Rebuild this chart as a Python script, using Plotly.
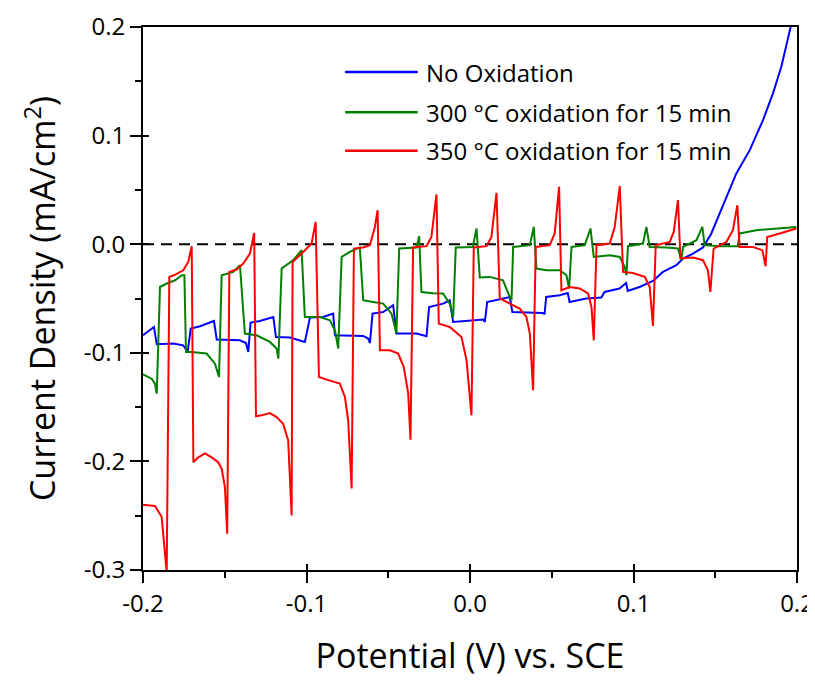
import plotly.graph_objects as go

# ---------------- data ----------------
no_ox_v = [-0.2, -0.1957, -0.1933, -0.1916, -0.1815, -0.1754, -0.1727, -0.1708, -0.1651, -0.1566,
           -0.1549, -0.1407, -0.137, -0.1356, -0.1342, -0.1285, -0.1203, -0.1187, -0.1101, -0.101,
           -0.0979, -0.0898, -0.0837, -0.0826, -0.0735, -0.0653, -0.0623, -0.0612, -0.0596, -0.0531,
           -0.047, -0.045, -0.0327, -0.0266, -0.025, -0.0164, -0.0124, -0.0103, 0.0081, 0.0091,
           0.0105, 0.0202, 0.0243, 0.0259, 0.0446, 0.0456, 0.0466, 0.0548, 0.0598, 0.0609,
           0.0711, 0.0803, 0.0823, 0.0914, 0.0955, 0.0965, 0.1037, 0.1119, 0.116, 0.118,
           0.1262, 0.1303, 0.1364, 0.1425, 0.1476, 0.1527, 0.1576, 0.1629, 0.1711, 0.1792,
           0.1853, 0.1904, 0.1965]
no_ox_j = [-0.0839, -0.0793, -0.0762, -0.0922, -0.0915, -0.0931, -0.0993, -0.0777, -0.0756, -0.0707,
           -0.0878, -0.0885, -0.091, -0.0993, -0.0722, -0.0707, -0.067, -0.0854, -0.086, -0.09,
           -0.0676, -0.067, -0.0639, -0.0839, -0.0839, -0.0845, -0.0869, -0.091, -0.0639, -0.0624,
           -0.0562, -0.0823, -0.0823, -0.0848, -0.0578, -0.0547, -0.0516, -0.0716, -0.0694, -0.0716,
           -0.0532, -0.05, -0.0486, -0.0624, -0.0633, -0.0645, -0.0486, -0.047, -0.0449, -0.0532,
           -0.05, -0.0491, -0.044, -0.0408, -0.0357, -0.043, -0.0394, -0.0338, -0.0286, -0.0255,
           -0.0194, -0.0132, -0.0086, -0.003, 0.0099, 0.0283, 0.047, 0.0652, 0.0866, 0.1143,
           0.1389, 0.1634, 0.2025]

ox300_v = [-0.2, -0.1947, -0.1927, -0.1916, -0.1896, -0.1855, -0.1804, -0.1763, -0.1747, -0.1737,
           -0.1702, -0.1611, -0.156, -0.1535, -0.1519, -0.1448, -0.1407, -0.1377, -0.1305, -0.1224,
           -0.1183, -0.1172, -0.1152, -0.1081, -0.103, -0.101, -0.0918, -0.0857, -0.0826, -0.0806,
           -0.0785, -0.0735, -0.0674, -0.0653, -0.0592, -0.0531, -0.048, -0.045, -0.0433, -0.0327,
           -0.0311, -0.0297, -0.0226, -0.0165, -0.0124, -0.0103, -0.0087, 0.0017, 0.004, 0.006,
           0.0121, 0.0202, 0.0243, 0.0254, 0.0264, 0.0366, 0.039, 0.0406, 0.0467, 0.0549,
           0.059, 0.0606, 0.0621, 0.0702, 0.0737, 0.0757, 0.0855, 0.0916, 0.0946, 0.0957,
           0.0966, 0.1058, 0.1079, 0.1099, 0.1201, 0.1272, 0.1293, 0.1303, 0.1385, 0.1421,
           0.1435, 0.1527, 0.1639, 0.1649, 0.1751, 0.1996]
ox300_j = [-0.1198, -0.1238, -0.1284, -0.1376, -0.0394, -0.0362, -0.0332, -0.0286, -0.0286, -0.0993,
           -0.0993, -0.1007, -0.11, -0.1223, -0.0286, -0.0255, -0.0194, -0.0823, -0.0839, -0.09,
           -0.0961, -0.1054, -0.0224, -0.0147, -0.0055, -0.067, -0.067, -0.07, -0.0793, -0.0961,
           -0.0117, -0.0071, -0.003, -0.0516, -0.0532, -0.0547, -0.0639, -0.0823, -0.004, -0.003,
           0.0074, -0.044, -0.0452, -0.0454, -0.0547, -0.067, -0.003, -0.0025, 0.0145, -0.0307,
           -0.0301, -0.0332, -0.0486, -0.0516, -0.0025, -0.0009, 0.0159, -0.0224, -0.024, -0.024,
           -0.0286, -0.0408, -0.0025, -0.0009, 0.0145, -0.0117, -0.0101, -0.0117, -0.0209, -0.0286,
           -0.0018, 0.0006, 0.0159, -0.0025, -0.003, -0.004, -0.0147, -0.0025, 0.0037, 0.0159,
           -0.0009, -0.0018, -0.0018, 0.0099, 0.0129, 0.0159]

ox350_v = [-0.2, -0.1927, -0.1886, -0.1855, -0.1839, -0.1811, -0.1754, -0.1723, -0.1702, -0.1692,
           -0.1662, -0.1621, -0.158, -0.154, -0.1519, -0.1499, -0.1485, -0.1472, -0.1427, -0.1387,
           -0.1346, -0.132, -0.1309, -0.1275, -0.1224, -0.1183, -0.1143, -0.1112, -0.1091, -0.1085,
           -0.102, -0.0969, -0.0944, -0.0924, -0.0877, -0.0796, -0.0765, -0.0745, -0.0724, -0.071,
           -0.0653, -0.0612, -0.0582, -0.0565, -0.0551, -0.049, -0.0439, -0.0405, -0.0378, -0.0364,
           -0.0348, -0.0266, -0.0236, -0.0205, -0.0191, -0.0124, -0.0052, -0.0021, 0.0009, 0.0023,
           0.0101, 0.0131, 0.0162, 0.0182, 0.0243, 0.0304, 0.0345, 0.0366, 0.0386, 0.0402,
           0.0488, 0.0518, 0.0545, 0.0559, 0.061, 0.0671, 0.0722, 0.0743, 0.0757, 0.0774,
           0.0855, 0.0885, 0.0916, 0.0936, 0.0997, 0.1069, 0.1099, 0.1119, 0.1136, 0.1222,
           0.1246, 0.1272, 0.1287, 0.1364, 0.1425, 0.1455, 0.147, 0.149, 0.1568, 0.1608,
           0.1635, 0.1649, 0.1729, 0.1788, 0.1808, 0.1818, 0.1894, 0.1996]
ox350_j = [-0.24, -0.241, -0.251, -0.302, -0.0301, -0.0286, -0.024, -0.0163, -0.0018, -0.2007,
           -0.1963, -0.1926, -0.1963, -0.2007, -0.2065, -0.2237, -0.2667, -0.0255, -0.0233, -0.0178,
           -0.0086, 0.0104, -0.1585, -0.1576, -0.1555, -0.1592, -0.1653, -0.1807, -0.2498, -0.0163,
           -0.0071, 0.0006, 0.0206, -0.1223, -0.1247, -0.1284, -0.1407, -0.1622, -0.2249, -0.004,
           -0.003, -0.0009, 0.0159, 0.0313, -0.0977, -0.0977, -0.1007, -0.1131, -0.1373, -0.18,
           -0.003, -0.0018, 0.0067, 0.0458, -0.0731, -0.0762, -0.0854, -0.1069, -0.1576, -0.003,
           -0.0018, 0.0067, 0.0473, -0.05, -0.0547, -0.0593, -0.067, -0.0823, -0.1346, -0.0025,
           -0.0009, 0.0099, 0.0528, -0.0424, -0.0394, -0.0408, -0.0454, -0.0578, -0.0885, -0.0009,
           0.0006, 0.0159, 0.0535, -0.0255, -0.0265, -0.0301, -0.0394, -0.0753, -0.0009, 0.0021,
           0.0113, 0.0406, -0.0132, -0.0123, -0.0147, -0.024, -0.044, -0.004, 0.0021, 0.0129,
           0.0359, -0.0025, -0.0025, -0.0055, -0.0203, 0.0067, 0.0099, 0.0145]

series_names = ["No Oxidation", "300 °C oxidation for 15 min", "350 °C oxidation for 15 min"]
series_colors = ["#0000FF", "#008000", "#FF0000"]

x_tickvals = [-0.2, -0.1, 0.0, 0.1, 0.2]
x_ticktext = ["-0.2", "-0.1", "0.0", "0.1", "0.2"]
y_tickvals = [-0.3, -0.2, -0.1, 0.0, 0.1, 0.2]
y_ticktext = ["-0.3", "-0.2", "-0.1", "0.0", "0.1", "0.2"]

# ---------------- figure ----------------
FONT = "Open Sans"
fig = go.Figure()
series = [(no_ox_v, no_ox_j), (ox300_v, ox300_j), (ox350_v, ox350_j)]
for (xv, yv), name, col in zip(series, series_names, series_colors):
    fig.add_trace(go.Scatter(x=xv, y=yv, mode="lines", name=name,
                             line=dict(color=col, width=2), showlegend=False))

# empty trace so the overlay axes (inner half of the crossing ticks) are drawn
fig.add_trace(go.Scatter(x=[], y=[], xaxis="x2", yaxis="y2", showlegend=False, hoverinfo="skip"))

# dashed zero line
fig.add_shape(type="line", xref="x", yref="y", x0=-0.2, x1=0.2, y0=0, y1=0,
              line=dict(color="black", width=2, dash="11px,7px"), layer="below")

# legend drawn as line samples + text
leg_y = [0.917, 0.843, 0.772]
for name, col, yy in zip(series_names, series_colors, leg_y):
    fig.add_shape(type="line", xref="paper", yref="paper", x0=0.309, x1=0.42, y0=yy, y1=yy,
                  line=dict(color=col, width=2.5))
    fig.add_annotation(xref="paper", yref="paper", x=0.429, y=yy, text=name, showarrow=False,
                       xanchor="left", yanchor="middle", font=dict(family=FONT, size=24, color="black"))

axis_common = dict(showline=True, linecolor="black", linewidth=2, mirror=True,
                   ticks="outside", ticklen=11, tickwidth=2, tickcolor="black",
                   showgrid=False, zeroline=False,
                   tickfont=dict(family=FONT, size=24, color="black"))

fig.update_layout(
    xaxis=dict(range=[-0.2, 0.2], tickvals=x_tickvals, ticktext=x_ticktext,
               minor=dict(ticks="outside", ticklen=6, tickwidth=2, tickcolor="black", dtick=0.05, tick0=0),
               title=dict(text="Potential (V) vs. SCE", font=dict(family=FONT, size=34, color="black"),
                          standoff=26),
               **axis_common),
    yaxis=dict(range=[-0.3, 0.2], tickvals=y_tickvals, ticktext=y_ticktext,
               minor=dict(ticks="outside", ticklen=6, tickwidth=2, tickcolor="black", dtick=0.05, tick0=0),
               title=dict(text="Current Density (mA/cm<sup>2</sup>)",
                          font=dict(family=FONT, size=34, color="black"), standoff=18),
               **axis_common),
    xaxis2=dict(overlaying="x", anchor="y2", side="bottom", range=[-0.2, 0.2], tickvals=x_tickvals,
                ticks="inside", ticklen=6, tickwidth=2, tickcolor="black", showticklabels=False,
                showline=False, showgrid=False, zeroline=False),
    yaxis2=dict(overlaying="y", anchor="x2", side="left", range=[-0.3, 0.2], tickvals=y_tickvals,
                ticks="inside", ticklen=6, tickwidth=2, tickcolor="black", showticklabels=False,
                showline=False, showgrid=False, zeroline=False),
)

# page body has an 8px margin, so the figure is made 8px smaller to sit like the reference
fig.update_layout(width=807, height=679, autosize=False,
                  margin=dict(l=135, r=18, t=19, b=117, autoexpand=False),
                  paper_bgcolor="white", plot_bgcolor="white",
                  font=dict(family=FONT, color="black"))

fig.write_html("out.html")
